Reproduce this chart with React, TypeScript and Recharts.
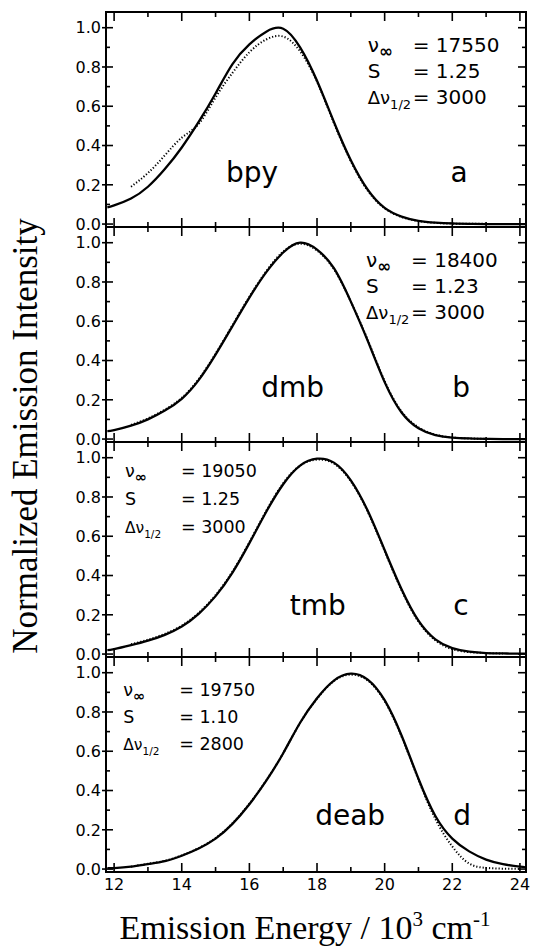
import React from 'react';
import { LineChart, Line, XAxis, YAxis, ReferenceDot, ReferenceArea } from 'recharts';

// ---------- data ----------
// Emission energy grid, 10^3 cm^-1
const energy = [11.8, 12, 12.5, 13, 13.5, 14, 14.5, 15, 15.5, 16, 16.5, 17, 17.5, 18, 18.5, 19, 19.5, 20, 20.5, 21, 21.5, 22, 22.5, 23, 23.5, 24, 24.15];

// (a) bpy
const bpyFit = [0.085, 0.095, 0.13, 0.19, 0.28, 0.39, 0.52, 0.665, 0.815, 0.915, 0.98, 0.995, 0.9, 0.73, 0.52, 0.325, 0.175, 0.082, 0.038, 0.016, 0.007, 0.003, 0.001, 0, 0, 0, 0];
const bpyData = [null, null, 0.19, 0.26, 0.35, 0.44, 0.51, 0.645, 0.77, 0.875, 0.94, 0.955, 0.88, 0.725, 0.515, 0.32, 0.17, 0.08, 0.036, 0.015, 0.006, 0.002, 0.001, 0.001, null, null, null];
// (b) dmb
const dmbFit = [0.04, 0.045, 0.068, 0.1, 0.145, 0.205, 0.3, 0.43, 0.575, 0.72, 0.85, 0.95, 1.0, 0.965, 0.87, 0.7, 0.5, 0.29, 0.135, 0.055, 0.02, 0.007, 0.003, 0.001, 0, 0, 0];
const dmbData = [null, null, 0.072, 0.105, 0.15, 0.21, 0.305, 0.435, 0.58, 0.725, 0.855, 0.955, 0.995, 0.96, 0.865, 0.7, 0.505, 0.295, 0.14, 0.06, 0.022, 0.008, 0.003, 0.001, null, null, null];
// (c) tmb
const tmbFit = [0.02, 0.025, 0.045, 0.068, 0.098, 0.14, 0.205, 0.295, 0.415, 0.565, 0.725, 0.865, 0.96, 0.995, 0.975, 0.885, 0.73, 0.53, 0.33, 0.17, 0.075, 0.03, 0.012, 0.005, 0.003, 0.002, 0.002];
const tmbData = [null, null, 0.05, 0.073, 0.103, 0.145, 0.21, 0.3, 0.42, 0.57, 0.73, 0.87, 0.96, 0.99, 0.97, 0.88, 0.725, 0.525, 0.325, 0.165, 0.07, 0.025, 0.01, 0.005, 0.003, null, null];
// (d) deab
const deabFit = [0.004, 0.005, 0.012, 0.025, 0.04, 0.068, 0.105, 0.155, 0.23, 0.33, 0.45, 0.59, 0.745, 0.87, 0.96, 0.995, 0.965, 0.86, 0.68, 0.46, 0.27, 0.155, 0.09, 0.048, 0.025, 0.012, 0.01];
const deabData = [null, null, 0.012, 0.027, 0.042, 0.07, 0.107, 0.158, 0.233, 0.333, 0.452, 0.59, 0.745, 0.868, 0.958, 0.99, 0.96, 0.855, 0.675, 0.455, 0.255, 0.115, 0.028, 0.006, 0.002, 0.001, null];

// tick values
const xTicks = [12, 13, 14, 15, 16, 17, 18, 19, 20, 21, 22, 23, 24];
const yTicks = [0, 0.1, 0.2, 0.3, 0.4, 0.5, 0.6, 0.7, 0.8, 0.9, 1.0];

// text
const ligands = ['bpy', 'dmb', 'tmb', 'deab'];
const panelLetters = ['a', 'b', 'c', 'd'];
const paramSymbols = ['ν', 'S', 'Δν'];
const paramSubs = ['∞', '', '1/2'];
const bpyParams = ['= 17550', '= 1.25', '= 3000'];
const dmbParams = ['= 18400', '= 1.23', '= 3000'];
const tmbParams = ['= 19050', '= 1.25', '= 3000'];
const deabParams = ['= 19750', '= 1.10', '= 2800'];
const yTitle = 'Normalized Emission Intensity';

// ---------- layout ----------
const X_DOMAIN: [number, number] = [11.76, 24.18];
const Y_DOMAIN: [number, number] = [-0.015, 1.08];
const PANEL_H = 215;
const PANEL_TOPS = [12, 227, 442, 657];
const SANS = 'DejaVu Sans, Verdana, sans-serif';
const SERIF = 'Liberation Serif, Times New Roman, serif';

type PanelCfg = {
  fit: (number | null)[];
  data: (number | null)[];
  params: string[];
  paramX: number; paramY: number; eqDx: number; paramSize: number; lineGap: number;
  nameX: number; nameY: number; letterX: number; letterY: number;
};

const panels: PanelCfg[] = [
  { fit: bpyFit, data: bpyData, params: bpyParams, paramX: 19.5, paramY: 0.876, eqDx: 45, paramSize: 20, lineGap: 26, nameX: 16.08, nameY: 0.214, letterX: 22.2, letterY: 0.214 },
  { fit: dmbFit, data: dmbData, params: dmbParams, paramX: 19.45, paramY: 0.876, eqDx: 45, paramSize: 20, lineGap: 26, nameX: 17.28, nameY: 0.214, letterX: 22.26, letterY: 0.214 },
  { fit: tmbFit, data: tmbData, params: tmbParams, paramX: 12.32, paramY: 0.9, eqDx: 56, paramSize: 17.5, lineGap: 28, nameX: 18.02, nameY: 0.2, letterX: 22.26, letterY: 0.2 },
  { fit: deabFit, data: deabData, params: deabParams, paramX: 12.27, paramY: 0.88, eqDx: 56, paramSize: 17.5, lineGap: 27, nameX: 18.98, nameY: 0.224, letterX: 22.29, letterY: 0.224 },
];

// ---------- tick marks and labels ----------
const tickMark = (dx1: number, dy1: number, dx2: number, dy2: number) => (p: any) => (
  <path d={`M${p.cx + dx1},${p.cy + dy1}L${p.cx + dx2},${p.cy + dy2}`} stroke="#000" strokeWidth={1.6} fill="none" />
);
const isMajorY = (v: number) => Math.round(v * 10) % 2 === 0;
const isMajorX = (v: number) => v % 2 === 0;

const LeftLabel = (p: any) => {
  const v = p.payload.value;
  if (!isMajorY(v)) return <g />;
  return (
    <text x={p.x - 5} y={p.y} dy="0.36em" textAnchor="end" fontSize={16} fontFamily={SANS} fill="#000">
      {v.toFixed(1)}
    </text>
  );
};
const makeBottomLabel = (show: boolean) => (p: any) => {
  const v = p.payload.value;
  if (!show || !isMajorX(v)) return <g />;
  return (
    <text x={p.x} y={p.y + 18} textAnchor="middle" fontSize={16} fontFamily={SANS} fill="#000">{String(v)}</text>
  );
};

const paramShape = (params: string[], eqDx: number, size: number, gap: number) => (p: any) => (
  <g>
    {params.map((val, i) => (
      <g key={i}>
        <text x={p.cx} y={p.cy + i * gap} fontSize={i === 2 ? size - 2 : size} fontFamily={SANS} fill="#000">
          {paramSymbols[i]}
          {paramSubs[i] && (
            <tspan fontSize={i === 0 ? size - 3 : size - 7} fontWeight={i === 0 ? 'bold' : 'normal'} dy={5}>{paramSubs[i]}</tspan>
          )}
        </text>
        <text x={p.cx + eqDx} y={p.cy + i * gap} fontSize={size} fontFamily={SANS} fill="#000">{val}</text>
      </g>
    ))}
  </g>
);
const bigText = (t: string) => (p: any) => (
  <text x={p.cx} y={p.cy} textAnchor="middle" fontSize={28} fontFamily={SANS} fill="#000">{t}</text>
);

const Panel = ({ idx }: { idx: number }) => {
  const cfg = panels[idx];
  const last = idx === panels.length - 1;
  const rows = energy.map((e, i) => ({ e, fit: cfg.fit[i], data: cfg.data[i] }));
  const mTop = 10;
  const axisH = last ? 40 : 0;
  const mBottom = last ? 0 : 10;
  const height = PANEL_H + mTop + mBottom + axisH;
  const ref = { xAxisId: 'b', yAxisId: 'l', r: 0, ifOverflow: 'visible' as const };
  return (
    <div style={{ position: 'absolute', left: 0, top: PANEL_TOPS[idx] - mTop }}>
      <LineChart width={533} height={height} data={rows} margin={{ top: mTop, right: 7, bottom: mBottom, left: 0 }}>
        <XAxis xAxisId="b" dataKey="e" type="number" domain={X_DOMAIN} allowDataOverflow ticks={xTicks} interval={0}
          height={axisH} tickSize={0} tickMargin={0} tickLine={false} axisLine={false} tick={makeBottomLabel(last)} />
        <YAxis yAxisId="l" type="number" domain={Y_DOMAIN} allowDataOverflow ticks={yTicks} interval={0}
          width={106} tickSize={0} tickMargin={0} tickLine={false} axisLine={false} tick={LeftLabel} />
        <ReferenceArea xAxisId="b" yAxisId="l" x1={X_DOMAIN[0]} x2={X_DOMAIN[1]} y1={Y_DOMAIN[0]} y2={Y_DOMAIN[1]}
          fill="none" fillOpacity={0} stroke="#000" strokeWidth={2} strokeOpacity={1} ifOverflow="visible" />
        {xTicks.map((t) => {
          const L = isMajorX(t) ? 9 : 5;
          return [
            <ReferenceDot key={`xb${t}`} {...ref} x={t} y={Y_DOMAIN[0]} shape={tickMark(0, 0, 0, -L)} />,
            <ReferenceDot key={`xt${t}`} {...ref} x={t} y={Y_DOMAIN[1]} shape={tickMark(0, 0, 0, L)} />,
          ];
        })}
        {yTicks.map((t) => {
          const major = isMajorY(t);
          return [
            <ReferenceDot key={`yl${t}`} {...ref} x={X_DOMAIN[0]} y={t} shape={tickMark(major ? -4 : 0, 0, major ? 7 : 4, 0)} />,
            <ReferenceDot key={`yr${t}`} {...ref} x={X_DOMAIN[1]} y={t} shape={tickMark(0, 0, major ? -8 : -4, 0)} />,
          ];
        })}
        <Line xAxisId="b" yAxisId="l" dataKey="data" type="natural" stroke="#000" strokeWidth={2}
          strokeDasharray="1.2 2" dot={false} isAnimationActive={false} />
        <Line xAxisId="b" yAxisId="l" dataKey="fit" type="natural" stroke="#000" strokeWidth={2.3}
          dot={false} isAnimationActive={false} />
        <ReferenceDot {...ref} x={cfg.paramX} y={cfg.paramY}
          shape={paramShape(cfg.params, cfg.eqDx, cfg.paramSize, cfg.lineGap)} />
        <ReferenceDot {...ref} x={cfg.nameX} y={cfg.nameY} shape={bigText(ligands[idx])} />
        <ReferenceDot {...ref} x={cfg.letterX} y={cfg.letterY} shape={bigText(panelLetters[idx])} />
      </LineChart>
    </div>
  );
};

export default function App() {
  return (
    <div style={{ position: 'absolute', left: 0, top: 0, width: 533, height: 949, background: '#fff', overflow: 'hidden' }}>
      {panels.map((_, i) => <Panel key={i} idx={i} />)}
      <svg width={533} height={949} style={{ position: 'absolute', left: 0, top: 0, pointerEvents: 'none' }}>
        <text transform="translate(37,436) rotate(-90)" textAnchor="middle" fontSize={35} fontFamily={SERIF} fill="#000">
          {yTitle}
        </text>
        <text x={305} y={939} textAnchor="middle" fontSize={34} fontFamily={SERIF} fill="#000">
          Emission Energy / 10<tspan fontSize={21} dy={-13}>3</tspan><tspan dy={13}> cm</tspan><tspan fontSize={21} dy={-13}>-1</tspan>
        </text>
      </svg>
    </div>
  );
}
